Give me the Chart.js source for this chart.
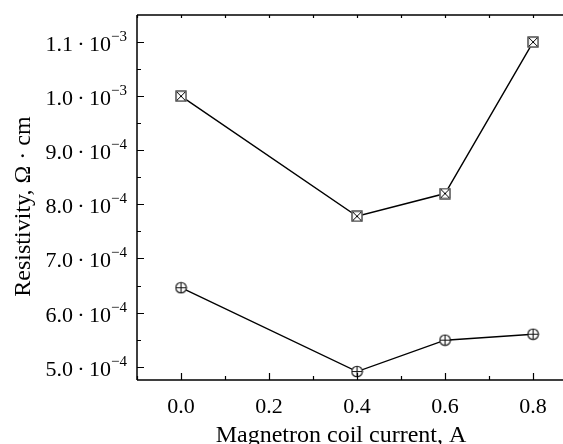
<!DOCTYPE html>
<html>
<head>
<meta charset="utf-8">
<script src="https://cdn.jsdelivr.net/npm/chart.js@4"></script>
<style>
  html, body { margin: 0; padding: 0; background: #fff; overflow: hidden; }
  #wrap { width: 563px; height: 444px; position: relative; }
</style>
</head>
<body>
<div id="wrap"><canvas id="chart"></canvas></div>
<script>
// Magnetron coil current, A
const currents = [0.0, 0.4, 0.6, 0.8];
// Resistivity, Ohm*cm (square-cross markers)
const resistivityUpper = [1.0e-3, 7.78e-4, 8.2e-4, 1.1e-3];
// Resistivity, Ohm*cm (circle-plus markers)
const resistivityLower = [6.46e-4, 4.91e-4, 5.49e-4, 5.6e-4];

const xTicks = [0.0, 0.2, 0.4, 0.6, 0.8];
const xTickLabels = ["0.0", "0.2", "0.4", "0.6", "0.8"];
const yTicks = [5e-4, 6e-4, 7e-4, 8e-4, 9e-4, 1.0e-3, 1.1e-3];
const yTickMantissas = ["5.0", "6.0", "7.0", "8.0", "9.0", "1.0", "1.1"];
const yTickExponents = ["\u22124", "\u22124", "\u22124", "\u22124", "\u22124", "\u22123", "\u22123"];

const xTitle = "Magnetron coil current, A";
const yTitle = "Resistivity, \u03A9 \u00B7 cm";
const FONT = '"Liberation Serif", "DejaVu Serif", serif';

function markerSquare() {
  const c = document.createElement("canvas");
  c.width = 12; c.height = 12;
  const g = c.getContext("2d");
  g.fillStyle = "#fff";
  g.fillRect(0.5, 0.5, 11, 11);
  g.strokeStyle = "#333";
  g.lineWidth = 1.3;
  g.strokeRect(1, 1, 10, 10);
  g.strokeStyle = "#000";
  g.lineWidth = 1;
  g.beginPath();
  g.moveTo(2, 2); g.lineTo(10, 10);
  g.moveTo(10, 2); g.lineTo(2, 10);
  g.stroke();
  return c;
}

function markerCircle() {
  const c = document.createElement("canvas");
  c.width = 13; c.height = 13;
  const g = c.getContext("2d");
  g.fillStyle = "#fff";
  g.beginPath(); g.arc(6.5, 6.5, 5.5, 0, Math.PI * 2); g.fill();
  g.strokeStyle = "#111";
  g.lineWidth = 1.1;
  g.beginPath(); g.arc(6.5, 6.5, 5.3, 0, Math.PI * 2); g.stroke();
  g.beginPath();
  g.moveTo(1.2, 6.5); g.lineTo(11.8, 6.5);
  g.moveTo(6.5, 1.2); g.lineTo(6.5, 11.8);
  g.stroke();
  return c;
}

const axesPlugin = {
  id: "axesPlugin",
  afterDraw(chart) {
    const { ctx, chartArea: a, scales: { x, y } } = chart;
    ctx.save();
    ctx.strokeStyle = "#000";
    ctx.lineWidth = 1.5;
    ctx.beginPath();
    ctx.moveTo(a.left, a.top); ctx.lineTo(a.left, a.bottom);
    ctx.moveTo(a.left, a.bottom); ctx.lineTo(a.right, a.bottom);
    ctx.moveTo(a.left, a.top); ctx.lineTo(a.right, a.top);
    ctx.stroke();

    // ticks (inward)
    ctx.lineWidth = 1.2;
    ctx.beginPath();
    for (let v = -0.1; v <= x.max + 1e-9; v += 0.1) {
      const px = Math.round(x.getPixelForValue(v)) + 0.5;
      const major = Math.abs(Math.round(v * 10) % 2) === 0;
      const len = major ? 7 : 4;
      ctx.moveTo(px, a.bottom); ctx.lineTo(px, a.bottom - len);
      ctx.moveTo(px, a.top); ctx.lineTo(px, a.top + 3);
    }
    for (let k = 0; k < 14; k++) {
      const v = 4.5e-4 + k * 0.5e-4;
      if (v < y.min || v > y.max) continue;
      const py = Math.round(y.getPixelForValue(v)) + 0.5;
      const len = k % 2 === 1 ? 7 : 4;
      ctx.moveTo(a.left, py); ctx.lineTo(a.left + len, py);
    }
    ctx.stroke();

    // x tick labels
    ctx.fillStyle = "#000";
    ctx.font = "22px " + FONT;
    ctx.textAlign = "center";
    ctx.textBaseline = "alphabetic";
    xTicks.forEach((v, i) => {
      ctx.fillText(xTickLabels[i], x.getPixelForValue(v), 413);
    });

    // y tick labels with superscript exponent
    yTicks.forEach((v, i) => {
      const py = y.getPixelForValue(v);
      const main = yTickMantissas[i] + "\u2009\u00B7\u200910";
      ctx.font = "15px " + FONT;
      const supW = ctx.measureText(yTickExponents[i]).width;
      ctx.font = "22px " + FONT;
      const mainW = ctx.measureText(main).width;
      const right = a.left - 10;
      ctx.textAlign = "left";
      ctx.fillText(main, right - supW - mainW, py + 9);
      ctx.font = "15px " + FONT;
      ctx.fillText(yTickExponents[i], right - supW, py - 1);
    });

    // axis titles
    ctx.font = "24px " + FONT;
    ctx.textAlign = "center";
    ctx.fillText(xTitle, 341, 442);
    ctx.translate(30, (a.top + a.bottom) / 2 + 9);
    ctx.rotate(-Math.PI / 2);
    ctx.fillText(yTitle, 0, 0);
    ctx.restore();
  }
};

const ctx = document.getElementById("chart").getContext("2d");
new Chart(ctx, {
  type: "scatter",
  data: {
    datasets: [
      {
        data: currents.map((c, i) => ({ x: c, y: resistivityUpper[i] })),
        showLine: true,
        borderColor: "#000",
        borderWidth: 1.4,
        pointStyle: markerSquare(),
        pointRadius: 6,
        pointHoverRadius: 6
      },
      {
        data: currents.map((c, i) => ({ x: c, y: resistivityLower[i] })),
        showLine: true,
        borderColor: "#000",
        borderWidth: 1.4,
        pointStyle: markerCircle(),
        pointRadius: 6,
        pointHoverRadius: 6
      }
    ]
  },
  options: {
    responsive: true,
    maintainAspectRatio: false,
    animation: false,
    events: [],
    layout: { autoPadding: false, padding: { left: 137, top: 15, right: 0, bottom: 64 } },
    plugins: { legend: { display: false }, tooltip: { enabled: false } },
    scales: {
      x: { type: "linear", min: -0.1, max: 0.868, display: false },
      y: { type: "linear", min: 4.754e-4, max: 1.15e-3, display: false }
    }
  },
  plugins: [axesPlugin]
});
</script>
</body>
</html>
